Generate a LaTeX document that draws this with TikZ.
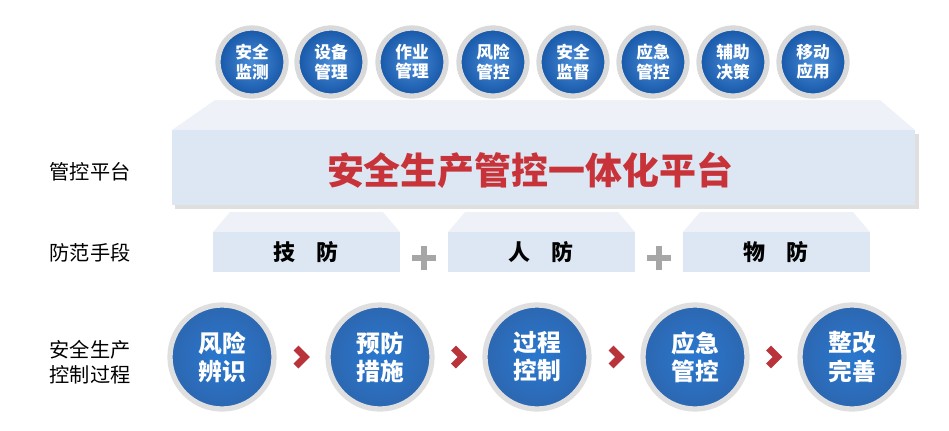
\documentclass[tikz,border=0pt]{standalone}
\usepackage{fontspec}
\setmainfont{Noto Sans CJK SC}
\definecolor{ballblue}{HTML}{2A78CF}
\definecolor{balldark}{HTML}{1556A8}
\definecolor{platred}{HTML}{C8333A}
\definecolor{platface}{HTML}{DDE7F3}
\definecolor{plattop}{HTML}{EEF2F8}
\definecolor{chevred}{HTML}{B8343A}
\usetikzlibrary{positioning, calc, shapes.misc}

\begin{document}
\begin{tikzpicture}[x=0.02cm, y=-0.02cm,
  topball/.style = {circle, minimum size = 68*0.02cm, inner sep = 0pt, draw = gray!30, line width = 3pt,
    inner color = ballblue!85, outer color = balldark, text = white, align = center,
    font = \bfseries\fontsize{9.5}{11}\selectfont},
  lowball/.style = {circle, minimum size = 104*0.02cm, inner sep = 0pt, draw = gray!25, line width = 3pt,
    inner color = ballblue, outer color = balldark!90, text = white, align = center,
    font = \bfseries\fontsize{13.5}{16}\selectfont},
  sidelabel/.style = {align = left, font = \fontsize{11.5}{14}\selectfont},
  guardtext/.style = {font = \bfseries\fontsize{12.5}{14}\selectfont},
  chev/.style = {draw = chevred, line width = 4pt, line cap = butt, line join = miter},
  plusmark/.style = {cross out, draw = gray!70, line width = 3.5pt, minimum size = 6pt, rotate = 45, inner sep = 0pt}]
\useasboundingbox (0,0) rectangle (949,430);

% platform
\fill[plattop] (215,100) -- (880,100) -- (915,130) -- (172,130) -- cycle;
\fill[gray!25] (175,134) rectangle (919,209);
\fill[platface] (172,130) rectangle (915,205);
\node[font = \bfseries\fontsize{21}{23}\selectfont, text = platred] (plat) at (530,170) {安全生产管控一体化平台};

% top functions
\foreach \x/\t [count = \i] in {252/安全\\监测, 331/设备\\管理, 412/作业\\管理, 493/风险\\管控,
                                573/安全\\监督, 653/应急\\管控, 733/辅助\\决策, 813/移动\\应用}
  \node[topball] (f\i) at (\x,62) {\t};

% guard means
\foreach \x/\t [count = \i] in {213/技\quad 防, 448/人\quad 防, 683/物\quad 防} {
  \fill[plattop] (\x+17,212) -- (\x+170,212) -- (\x+187,232) -- (\x,232) -- cycle;
  \fill[platface] (\x,232) rectangle (\x+187,272);
  \node[guardtext] (g\i) at (\x+93,252) {\t};
}
\node[plusmark] (plusA) at (424,258) {};
\node[plusmark] (plusB) at (659,258) {};

% control process
\foreach \x/\t [count = \i] in {222/风险\\辨识, 380/预防\\措施, 537/过程\\控制, 695/应急\\管控, 852/整改\\完善}
  \node[lowball] (p\i) at (\x,357) {\t};
\foreach \a/\b in {1/2, 2/3, 3/4, 4/5}
  \draw[chev] ($(p\a)!0.5!(p\b)+(-5,-9)$) -- ++(9,9) -- ++(-9,9);

% side labels
\node[sidelabel] (lplat) at (90,172) {管控平台};
\node[sidelabel] (lguard) at (90,253) {防范手段};
\node[sidelabel] (lproc) at (90,362) {安全生产\\控制过程};
\end{tikzpicture}
\end{document}
